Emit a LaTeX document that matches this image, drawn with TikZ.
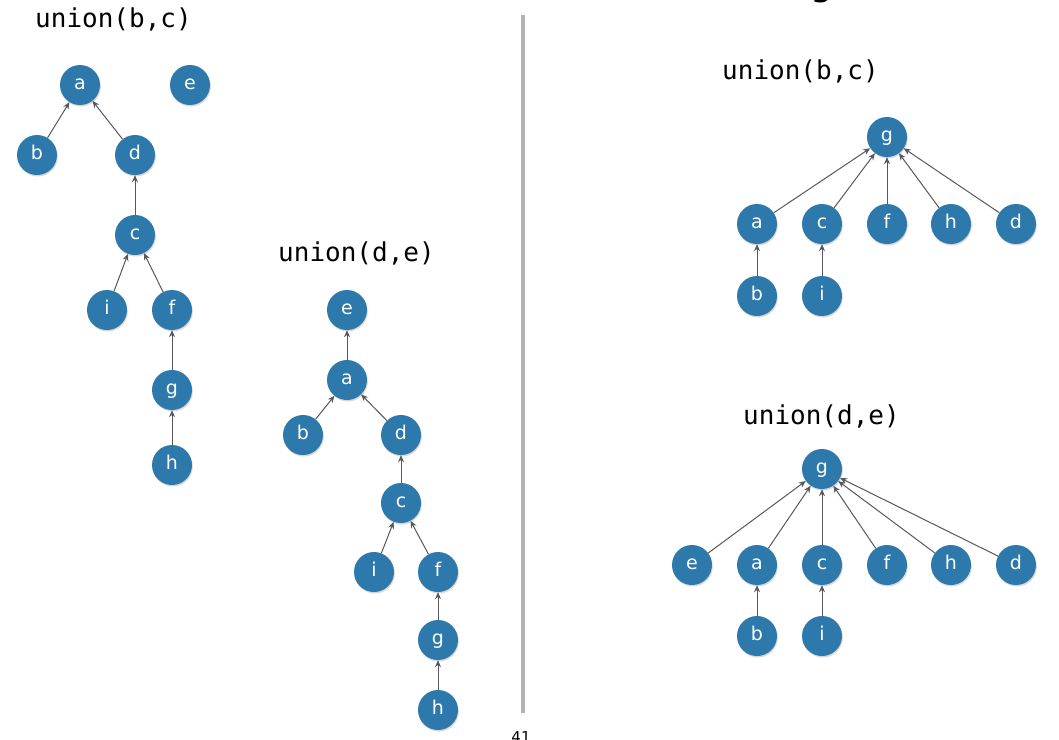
\documentclass[tikz,border=0pt]{standalone}
\usepackage{fontspec}
\setmainfont{DejaVu Sans}
\newfontfamily\monofont{DejaVu Sans Mono}
\usetikzlibrary{arrows.meta,shadows}
\definecolor{nodeblue}{RGB}{46,121,172}
\definecolor{edgegray}{RGB}{85,88,92}
\definecolor{divgray}{RGB}{178,180,180}
\tikzset{
  vert/.style={circle, fill=nodeblue, minimum size=40pt, inner sep=0pt, text=white,
    font=\fontsize{19}{19}\selectfont, text depth=0pt, text height=9pt,
    drop shadow={opacity=0.3, shadow xshift=0.8pt, shadow yshift=-1.5pt}},
  link/.style={draw=edgegray, line width=1pt, -{Stealth[length=7pt,width=6pt]}},
  title/.style={font=\monofont\fontsize{26}{26}\selectfont, inner sep=0pt, anchor=base west}
}
\begin{document}
\begin{tikzpicture}[x=1pt,y=-1pt]
\useasboundingbox (0,0) rectangle (1059,739);
\clip (0,0) rectangle (1059,739);
\fill[white] (0,0) rectangle (1059,739);
% clipped slide texts
\node[font=\fontsize{36}{36}\selectfont, inner sep=0pt, anchor=base] (clipg) at (822,-5) {g};
\node[font=\fontsize{15}{15}\selectfont, inner sep=0pt, anchor=north] (pagenum) at (521,731) {41};
% divider
\draw[divgray, line width=4pt] (523,15) coordinate (divtop) -- (523,713) coordinate (divbot);

% ---------- left tree: union(b,c)
\node[title] (Lt) at (35,27) {union(b,c)};
\node[vert] (La) at (80,85) {a};
\node[vert] (Le) at (190,85) {e};
\node[vert] (Lb) at (37,155) {b};
\node[vert] (Ld) at (135,155) {d};
\node[vert] (Lc) at (135,235) {c};
\node[vert] (Li) at (107,310) {i};
\node[vert] (Lf) at (172,310) {f};
\node[vert] (Lg) at (172,390) {g};
\node[vert] (Lh) at (172,465) {h};
\draw[link] (Lb) -- (La);
\draw[link] (Ld) -- (La);
\draw[link] (Lc) -- (Ld);
\draw[link] (Li) -- (Lc);
\draw[link] (Lf) -- (Lc);
\draw[link] (Lg) -- (Lf);
\draw[link] (Lh) -- (Lg);

% ---------- middle tree: union(d,e)
\node[title] (Mt) at (278,261) {union(d,e)};
\node[vert] (Me) at (347,310) {e};
\node[vert] (Ma) at (347,380) {a};
\node[vert] (Mb) at (303,435) {b};
\node[vert] (Md) at (401,435) {d};
\node[vert] (Mc) at (401,503) {c};
\node[vert] (Mi) at (374,572) {i};
\node[vert] (Mf) at (438,572) {f};
\node[vert] (Mg) at (438,640) {g};
\node[vert] (Mh) at (438,710) {h};
\draw[link] (Ma) -- (Me);
\draw[link] (Mb) -- (Ma);
\draw[link] (Md) -- (Ma);
\draw[link] (Mc) -- (Md);
\draw[link] (Mi) -- (Mc);
\draw[link] (Mf) -- (Mc);
\draw[link] (Mg) -- (Mf);
\draw[link] (Mh) -- (Mg);

% ---------- right top: union(b,c)
\node[title] (Rt) at (722,79) {union(b,c)};
\node[vert] (Rg) at (887,137) {g};
\node[vert] (Ra) at (757,224) {a};
\node[vert] (Rc) at (822,224) {c};
\node[vert] (Rf) at (887,224) {f};
\node[vert] (Rh) at (951,224) {h};
\node[vert] (Rd) at (1016,224) {d};
\node[vert] (Rb) at (757,296) {b};
\node[vert] (Ri) at (822,296) {i};
\foreach \n in {Ra,Rc,Rf,Rh,Rd} \draw[link] (\n) -- (Rg);
\draw[link] (Rb) -- (Ra);
\draw[link] (Ri) -- (Rc);

% ---------- right bottom: union(d,e)
\node[title] (St) at (743,424) {union(d,e)};
\node[vert] (Sg) at (822,469) {g};
\node[vert] (Se) at (692,565) {e};
\node[vert] (Sa) at (757,565) {a};
\node[vert] (Sc) at (822,565) {c};
\node[vert] (Sf) at (887,565) {f};
\node[vert] (Sh) at (951,565) {h};
\node[vert] (Sd) at (1016,565) {d};
\node[vert] (Sb) at (757,636) {b};
\node[vert] (Si) at (822,636) {i};
\foreach \n in {Se,Sa,Sc,Sf,Sh,Sd} \draw[link] (\n) -- (Sg);
\draw[link] (Sb) -- (Sa);
\draw[link] (Si) -- (Sc);
\end{tikzpicture}
\end{document}
